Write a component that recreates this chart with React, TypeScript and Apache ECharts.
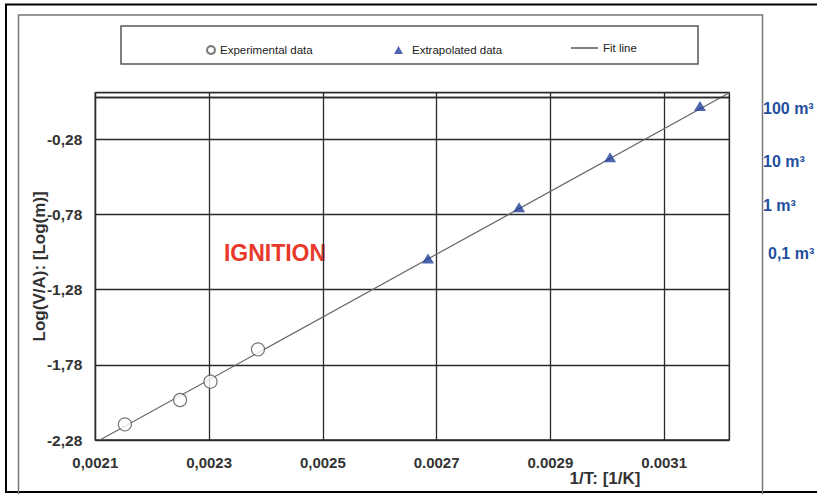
import React, { useEffect, useRef } from "react";
import * as echarts from "echarts";

const experimentalX = [0.002152, 0.002249, 0.0023025, 0.002386];
const experimentalY = [-2.176, -2.014, -1.892, -1.677];
const extrapolatedX = [0.002685, 0.002845, 0.003005, 0.003163];
const extrapolatedY = [-1.072, -0.732, -0.4, -0.059];
const fitX = [0.002108, 0.0032146];
const fitY = [-2.28, 0.03];

const xTickValues = [0.0021, 0.0023, 0.0025, 0.0027, 0.0029, 0.0031];
const xTickLabels = ["0,0021", "0,0023", "0,0025", "0.0027", "0.0029", "0.0031"];
const yTickValues = [-2.28, -1.78, -1.28, -0.78, -0.28];
const yTickLabels = ["-2,28", "-1,78", "-1,28", "-0,78", "-0,28"];

const volumeLabels = ["100 m³", "10 m³", "1 m³", "0,1 m³"];
const seriesNames = ["Experimental data", "Extrapolated data", "Fit line"];

const FONT = "'Liberation Sans', Arial, sans-serif";
const BLUE = "#1f4f9e";

function findLabel(values: number[], labels: string[], v: number): string {
  for (let i = 0; i < values.length; i++) {
    if (Math.abs(values[i] - v) < 1e-9) return labels[i];
  }
  return "";
}

export default function App() {
  const ref = useRef<HTMLDivElement>(null);
  useEffect(() => {
    if (!ref.current) return;
    const chart = echarts.init(ref.current, undefined, { renderer: "svg" });
    const legendText = { fontFamily: FONT, fontSize: 11.5, color: "#222" };
    const option: any = {
      animation: false,
      backgroundColor: "#ffffff",
      grid: {
        left: 95.3,
        right: 817 - 729.3,
        top: 92.7,
        bottom: 494 - 440,
        show: true,
        borderColor: "#2a2a2a",
        borderWidth: 1.3,
      },
      legend: [
        {
          data: [seriesNames[0]],
          left: 201,
          top: 39,
          itemWidth: 8,
          itemHeight: 8,
          selectedMode: false,
          textStyle: legendText,
        },
        {
          data: [seriesNames[1]],
          left: 389,
          top: 39,
          itemWidth: 9,
          itemHeight: 8,
          selectedMode: false,
          textStyle: { ...legendText, padding: [0, 0, 0, 4] },
        },
        {
          data: [seriesNames[2]],
          left: 566,
          top: 37,
          icon: "rect",
          itemWidth: 27,
          itemHeight: 1.5,
          selectedMode: false,
          textStyle: legendText,
        },
      ],
      xAxis: {
        type: "value",
        min: 0.0021,
        max: 0.0032146,
        interval: 0.0002,
        axisLine: { show: true, lineStyle: { color: "#2a2a2a", width: 1.3 } },
        axisTick: { show: false },
        splitLine: { show: true, lineStyle: { color: "#2a2a2a", width: 1.3 } },
        axisLabel: {
          margin: 15,
          fontFamily: FONT,
          fontSize: 15,
          fontWeight: "bold",
          color: "#333",
          formatter: (v: number) => findLabel(xTickValues, xTickLabels, v),
        },
      },
      yAxis: {
        type: "value",
        min: -2.28,
        max: 0.03,
        interval: 0.5,
        name: "Log(V/A): [Log(m)]",
        nameLocation: "middle",
        nameRotate: 90,
        nameGap: 47,
        nameMoveOverlap: false,
        nameTextStyle: { fontFamily: FONT, fontSize: 17, fontWeight: "bold", color: "#333" },
        axisLine: { show: true, lineStyle: { color: "#2a2a2a", width: 1.3 } },
        axisTick: { show: false },
        splitLine: { show: true, lineStyle: { color: "#2a2a2a", width: 1.3 } },
        axisLabel: {
          margin: 13,
          fontFamily: FONT,
          fontSize: 15.5,
          fontWeight: "bold",
          color: "#333",
          formatter: (v: number) => findLabel(yTickValues, yTickLabels, v),
        },
      },
      series: [
        {
          name: seriesNames[2],
          type: "line",
          data: fitX.map((x, i) => [x, fitY[i]]),
          symbol: "none",
          lineStyle: { color: "#6a6a6a", width: 1.2 },
          itemStyle: { color: "#555" },
          z: 2,
          markLine: {
            silent: true,
            symbol: "none",
            label: { show: false },
            lineStyle: { color: "#2a2a2a", width: 1.3, type: "solid" },
            data: [{ yAxis: 0 }],
          },
        },
        {
          name: seriesNames[0],
          type: "scatter",
          data: experimentalX.map((x, i) => [x, experimentalY[i]]),
          symbol: "circle",
          symbolSize: 13,
          itemStyle: { color: "#ffffff", borderColor: "#555", borderWidth: 1.2 },
          z: 3,
        },
        {
          name: seriesNames[1],
          type: "scatter",
          data: extrapolatedX.map((x, i) => [x, extrapolatedY[i]]),
          symbol: "triangle",
          symbolSize: [12, 10],
          itemStyle: { color: "#1f3f9a" },
          z: 3,
        },
      ],
      graphic: [
        {
          type: "rect",
          shape: { x: 6, y: 4.5, width: 830, height: 487.5 },
          style: { fill: "none", stroke: "#000", lineWidth: 2 },
          silent: true,
          z: 0,
        },
        {
          type: "rect",
          shape: { x: 18.5, y: 15, width: 744, height: 485 },
          style: { fill: "none", stroke: "#777", lineWidth: 1.5 },
          silent: true,
          z: 0,
        },
        {
          type: "rect",
          shape: { x: 121, y: 26, width: 577, height: 38 },
          style: { fill: "none", stroke: "#555", lineWidth: 1.5 },
          silent: true,
          z: 0,
        },
        {
          type: "text",
          x: 605,
          y: 478,
          style: {
            text: "1/T: [1/K]",
            fontFamily: FONT,
            fontSize: 17,
            fontWeight: "bold",
            fill: "#333",
            textAlign: "center",
            textVerticalAlign: "middle",
          },
        },
        {
          type: "text",
          x: 275,
          y: 253,
          style: {
            text: "IGNITION",
            fontFamily: FONT,
            fontSize: 23,
            fontWeight: "bold",
            fill: "#e8392b",
            textAlign: "center",
            textVerticalAlign: "middle",
          },
        },
        ...volumeLabels.map((t, i) => ({
          type: "text",
          x: i === 3 ? 768 : 763,
          y: [108, 161, 205, 253][i],
          style: {
            text: t,
            fontFamily: FONT,
            fontSize: 16,
            fontWeight: "bold",
            fill: BLUE,
            textAlign: "left",
            textVerticalAlign: "middle",
          },
        })),
      ],
    };
    chart.setOption(option);
    return () => chart.dispose();
  }, []);
  return (
    <div
      ref={ref}
      style={{ position: "fixed", left: 0, top: 0, width: 817, height: 494 }}
    />
  );
}
